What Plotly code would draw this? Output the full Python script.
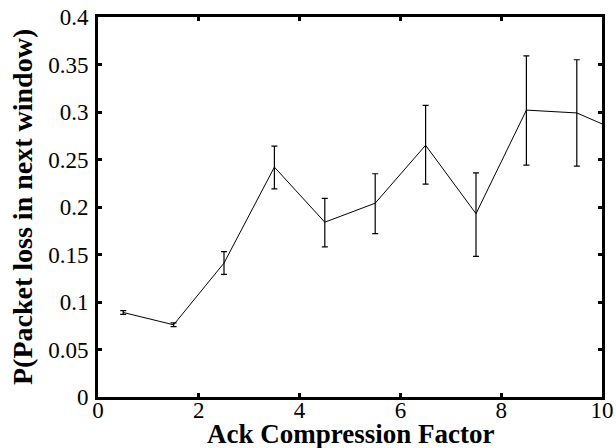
import plotly.graph_objects as go

x_vals = [0.5, 1.5, 2.5, 3.5, 4.5, 5.5, 6.5, 7.5, 8.5, 9.5, 10.5]
y_vals = [0.089, 0.076, 0.141, 0.242, 0.184, 0.204, 0.265, 0.193, 0.302, 0.299, 0.276]
err_plus = [0.002, 0.002, 0.012, 0.022, 0.025, 0.031, 0.042, 0.043, 0.057, 0.056, 0.05]
err_minus = [0.002, 0.002, 0.012, 0.023, 0.026, 0.032, 0.041, 0.045, 0.058, 0.056, 0.05]

x_ticks = [0, 2, 4, 6, 8, 10]
y_ticks = [0, 0.05, 0.1, 0.15, 0.2, 0.25, 0.3, 0.35, 0.4]
y_tick_text = ["0", "0.05", "0.1", "0.15", "0.2", "0.25", "0.3", "0.35", "0.4"]

x_title = "Ack Compression Factor"
y_title = "P(Packet loss in next window)"

font_family = "Liberation Serif, Times New Roman, serif"

fig = go.Figure()
fig.add_trace(go.Scatter(
    x=x_vals, y=y_vals, mode="lines",
    line=dict(color="black", width=1),
    error_y=dict(type="data", array=err_plus, arrayminus=err_minus,
                 symmetric=False, color="black", thickness=1.2, width=3),
    showlegend=False,
))

axis_common = dict(
    showline=True, linecolor="black", linewidth=3, mirror="ticks",
    ticks="inside", ticklen=4, tickwidth=3, tickcolor="black",
    showgrid=False, zeroline=False, automargin=False,
    tickfont=dict(family=font_family, size=23, color="black"),
)

fig.update_layout(
    width=616, height=448,
    margin=dict(l=98, r=14, t=17, b=51),
    paper_bgcolor="white", plot_bgcolor="white",
    xaxis=dict(range=[0, 10], tickvals=x_ticks, ticktext=[str(t) for t in x_ticks],
               ticklabelstandoff=-10, **axis_common),
    yaxis=dict(range=[0, 0.4], tickvals=y_ticks, ticktext=y_tick_text,
               ticklabelstandoff=2, **axis_common),
)

fig.add_annotation(
    text="<b>" + x_title + "</b>", xref="paper", yref="paper",
    x=0.5, y=0, xanchor="center", yanchor="middle", yshift=-37,
    showarrow=False, font=dict(family=font_family, size=27, color="black"),
)
fig.add_annotation(
    text="<b>" + y_title + "</b>", xref="paper", yref="paper",
    x=0, y=0.5, xanchor="center", yanchor="middle", xshift=-76, textangle=-90,
    showarrow=False, font=dict(family=font_family, size=28, color="black"),
)

fig.write_html("out.html")
